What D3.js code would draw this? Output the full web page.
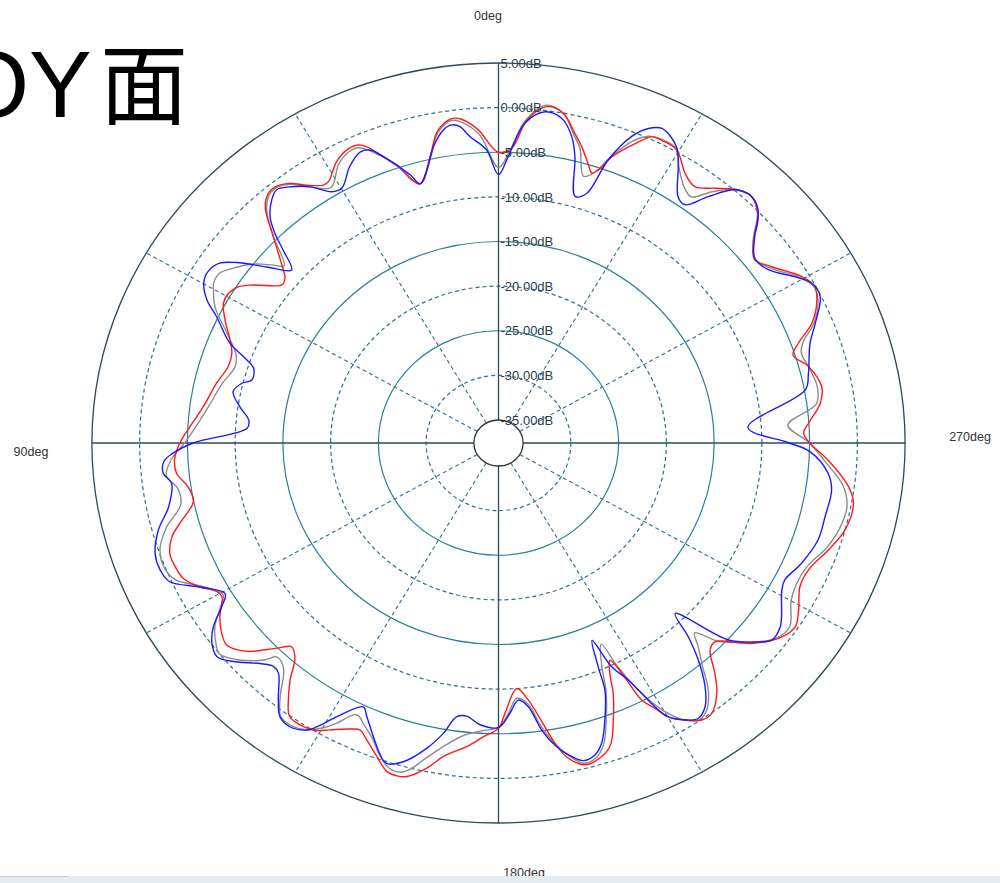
<!DOCTYPE html>
<html>
<head>
<meta charset="utf-8">
<script src="https://cdn.jsdelivr.net/npm/d3@7"></script>
<style>
  body { margin: 0; background: #fff; }
  text { font-family: "Liberation Sans", Arial, sans-serif; }
</style>
</head>
<body>
<div id="chart"></div>
<script>
// rings (dB) and dashed spoke angles
var dbTicks = [5, 0, -5, -10, -15, -20, -25, -30, -35];
var spokeAngles = [30, 60, 120, 150, 210, 240, 300, 330];
var degLabels = ["0deg", "90deg", "180deg", "270deg"];

// [angle in deg (0 = top, counter-clockwise), gain in dB]
var redSeries = [[0,-5.0],[3.5,-2.4],[6.1,-1.1],[7.7,-0.9],[10.3,-2.0],[12.6,-4.7],[15.8,-7.4],[18.9,-4.65],[21,-3.0],[22.6,-1.6],[24,-1.05],[25.8,-1.1],[28.3,-1.8],[31.3,-3.3],[32.4,-3.35],[34.8,-2.4],[36.9,-1.2],[39.2,-0.55],[40.7,-0.65],[42.7,-1.55],[45.6,-4.6],[49.3,-7.85],[50.5,-8.6],[52,-8.8],[55.4,-6.4],[57.3,-5.2],[59.3,-4.7],[61.5,-4.8],[64.3,-5.8],[67.7,-7.2],[70.2,-7.9],[73.2,-8.0],[77.2,-7.3],[82.5,-6.4],[86.8,-5.2],[90,-4.2],[93.2,-3.6],[95.8,-3.7],[98.6,-4.7],[101.6,-4.95],[105.1,-3.0],[107.1,-1.8],[109.8,-1.0],[112.3,-1.0],[114.7,-1.25],[117.3,-2.4],[119.4,-3.7],[120.7,-3.9],[123.7,-2.5],[126.3,-1.6],[128.5,-1.2],[130.2,-1.7],[131.9,-2.6],[134.7,-4.9],[136.5,-6.1],[138.5,-5.4],[140.6,-3.2],[142.6,-1.35],[144.5,0.07],[147.3,0.2],[149.4,-0.15],[151.2,-0.9],[154.1,-1.95],[155.7,-2.3],[157.5,-1.55],[160.1,-0.2],[162.4,1.05],[164.1,1.2],[165.6,1.0],[168.3,-0.35],[170.7,-2.0],[174.4,-3.4],[177.2,-4.6],[180,-5.6],[181.3,-7.3],[184,-10.0],[186.2,-8.6],[190,-3.4],[191.7,-1.5],[194.1,-0.4],[195.8,-0.5],[198.9,-1.6],[201.4,-4.6],[203.2,-7.1],[204.3,-9.25],[205.6,-10.6],[206.6,-8.7],[207.5,-5.1],[208.9,-3.6],[210.1,-2.1],[212.2,-0.9],[214.4,0.05],[216.4,0.05],[219.2,-1.4],[221.3,-3.25],[223.7,-5.5],[225.5,-5.8],[229.7,-2.85],[233.8,-0.8],[236.5,-0.3],[239.2,-1.0],[243,-2.15],[246.3,-2.15],[250.9,-1.0],[255,0],[259.7,0.2],[262.4,-0.6],[266.8,-3.0],[270,-5.0],[272,-5.6],[274,-5.0],[277.5,-3.6],[280.6,-3.15],[284.8,-4.0],[287.7,-5.2],[289.6,-4.25],[292.2,-2.15],[295.2,-0.75],[297.9,-0.1],[300.4,-0.75],[304.6,-2.8],[307.4,-3.8],[310,-2.75],[313,-0.4],[316.2,0.7],[318.5,0.3],[321.5,-1.1],[324.4,-2.25],[327.1,-1.6],[330.4,0.2],[333.3,0.4],[334.9,0.3],[336.9,-1.1],[339.7,-3.4],[341.1,-5.25],[342.1,-5.8],[343.2,-5.0],[345.3,-3.25],[347,-2.0],[349.7,0.05],[352.4,0.44],[355.3,-1.3],[357.6,-4.5]];

var graySeries = [[0,-6.7],[3.5,-2.8],[7.6,-1.1],[10.3,-2.2],[12.6,-4.9],[15.8,-7.4],[18.9,-4.8],[21,-3.1],[23.9,-1.4],[25.8,-1.4],[28.3,-2.2],[31.5,-4.0],[34.8,-2.6],[37,-1.3],[39.2,-0.7],[41,-0.9],[43,-2.0],[45.6,-4.6],[48.5,-7.6],[49.8,-6.7],[52,-5.0],[54.8,-3.6],[57,-2.7],[59.1,-2.8],[60.1,-3.15],[62.8,-4.2],[66.6,-6.6],[70,-8.3],[72.8,-8.7],[77,-7.9],[82.5,-6.9],[86.8,-5.8],[90,-4.7],[93,-3.3],[96,-2.6],[98.6,-3.6],[101.7,-3.6],[105.3,-1.5],[108.7,-0.15],[112,0.1],[114.5,-0.5],[117.3,-2.6],[120.5,-4.1],[122.3,-3.1],[124.6,-1.5],[127,-0.5],[129,0.0],[131.4,-0.9],[134.7,-3.0],[135.9,-4.2],[138.2,-3.8],[141.3,-1.0],[143.3,0.6],[145.5,0.8],[148,0.3],[150,-0.7],[151.5,-1.8],[154,-3.7],[156,-3.0],[158.3,-1.9],[160.5,-0.4],[162.5,0.6],[164.5,0.7],[166,0.0],[167.5,-1.2],[170.4,-3.1],[173.6,-4.6],[177,-5.3],[180,-5.7],[182,-7.3],[183.8,-8.9],[186,-8.2],[188,-5.5],[190,-3.3],[192,-1.7],[194,-0.6],[196,-0.8],[198,-2.0],[200,-4.6],[202,-7.5],[203.5,-10.5],[205.5,-12.6],[206.5,-9.5],[208,-6.0],[210,-2.9],[212.2,-0.9],[214.2,-0.1],[216.2,-0.6],[218.5,-2.3],[220.5,-4.7],[222.5,-6.6],[224,-8.0],[226,-5.6],[229.5,-3.2],[233,-1.2],[236,-0.8],[240,-2.2],[243,-2.6],[247,-2.4],[251,-1.3],[255,-0.6],[259,-0.4],[262.5,-1.2],[266.5,-3.3],[270,-5.0],[273.8,-7.2],[277.5,-4.0],[280.5,-3.6],[284,-3.9],[287.7,-4.3],[289.6,-3.7],[292,-2.0],[295.5,-0.5],[298,-0.2],[300.5,-1.0],[304.5,-3.0],[307.5,-3.7],[310.5,-2.5],[313.5,-0.2],[316.2,0.7],[318.7,0.2],[321.5,-1.6],[323.8,-3.4],[325.7,-3.0],[328.5,-1.4],[330.5,0.3],[333.5,0.5],[335.5,0.2],[337.5,-1.0],[340,-3.6],[341.5,-5.5],[343.4,-6.4],[345.5,-3.5],[347.2,-2.1],[349.5,-0.1],[352.5,0.6],[355.5,-1.3],[357.8,-4.6]];

var blueSeries = [[0,-7.5],[2.2,-4.7],[5,-3.1],[6.5,-1.9],[7.8,-1.6],[9.4,-2.05],[11.6,-3.7],[13.8,-6.1],[15.8,-7.4],[17.1,-6.15],[20.6,-3.3],[22.3,-2.1],[23.9,-1.9],[26.7,-2.9],[29.9,-4.65],[31.8,-4.45],[34.5,-2.75],[37.3,-1.5],[39.3,-0.9],[41.1,-1.45],[43.3,-2.7],[44.9,-4.4],[46.2,-6.3],[48.2,-8.5],[50.9,-6.3],[53.6,-3.5],[55.4,-2.1],[57.7,-1.6],[59.9,-1.9],[62.3,-3.1],[64.4,-4.85],[68.3,-7.3],[70.1,-9.2],[71.9,-10.6],[74.7,-10.8],[76,-9.9],[78.3,-9.2],[81.5,-10.2],[84.4,-11.3],[86.4,-11.2],[90,-5.6],[92,-3.4],[93.3,-2.5],[95.5,-2.3],[97.5,-3.05],[101.7,-2.3],[105.3,-0.65],[109,0.45],[111.9,0.6],[114.3,0.2],[117.3,-2.4],[120.5,-4.35],[122.3,-3.3],[124.6,-1.3],[126.8,-0.1],[129.1,0.4],[131.4,-0.55],[134.7,-2.45],[136.7,-3.2],[138.2,-3.0],[141.3,-0.7],[143.3,0.7],[145.5,1.0],[148,0.35],[149.1,-0.5],[151.1,-2.55],[154.4,-4.8],[155.8,-3.95],[158.3,-2.15],[160.5,-0.5],[161.9,0.2],[164.4,-0.5],[167.6,-2.55],[169.9,-4.5],[171.9,-6.6],[173.8,-6.8],[176.5,-5.95],[180,-5.7],[182.3,-7.3],[184.1,-8.7],[186,-7.9],[188,-5.1],[189.9,-3.2],[191.8,-1.9],[194,-0.9],[196.1,-1.2],[197.8,-2.25],[200,-4.95],[201.9,-7.7],[202.6,-10.4],[203.9,-13.4],[205.3,-9.85],[207.1,-7.75],[209,-3.8],[210.1,-2.1],[212.2,-0.9],[214.1,-0.3],[216.2,-0.95],[218.4,-2.75],[220.7,-5.5],[222.5,-8.2],[224.1,-11.0],[227.5,-4.9],[230.7,-2.4],[232.3,-1.45],[235.1,-1.6],[241,-3.65],[242.9,-3.9],[247,-3.1],[252,-2.4],[256.4,-2.4],[261.4,-2.3],[264.4,-2.9],[268.3,-4.95],[270,-7.1],[273.8,-11.4],[280.5,-4.9],[283.5,-4.2],[288.9,-3.1],[292,-1.8],[296,-0.1],[298.6,-0.2],[301,-1.4],[304.5,-3.3],[307.6,-3.7],[310.7,-2.2],[313.8,0.1],[316.2,0.7],[318.9,0.07],[321.5,-2.3],[323.8,-4.5],[325.7,-4.2],[328.7,-1.35],[330.7,0.5],[334.1,1.6],[336,1.0],[337.9,-0.5],[340.1,-3.85],[341.7,-8.1],[343.8,-8.8],[346,-4.5],[347.4,-2.4],[349.7,-0.6],[352.5,-0.15],[355.6,-1.65],[358.2,-5.5]];

var width = 1000, height = 883,
    cx = 498.5, cy = 443,
    stretch = 1.07;   // picture is a bit wider than tall

var svg = d3.select("#chart")
  .append("svg")
    .attr("width", width)
    .attr("height", height);

var r = d3.scaleLinear()
  .domain([-35, 5])
  .range([23, 380]);

var rad = function(a) { return a * Math.PI / 180; };

var plot = svg.append("g")
    .attr("transform", "translate(" + cx + "," + cy + ") scale(" + stretch + ",1)");

// rings
plot.selectAll("circle.ring")
  .data(dbTicks.filter(function(d) { return d > -35; }))
  .enter()
  .append("circle")
    .attr("class", "ring")
    .attr("r", function(d) { return r(d); })
    .attr("fill", "none")
    .attr("vector-effect", "non-scaling-stroke")
    .attr("stroke", function(d) {
      if (d === 5) return "#2f4b5b";
      return d % 10 === 0 ? "#2f6f8f" : "#2a7f9d";
    })
    .attr("stroke-width", function(d) { return d === 5 ? 1.3 : 1.2; })
    .attr("stroke-dasharray", function(d) { return d % 10 === 0 && d !== 5 ? "4,3" : null; });

// dashed spokes
plot.selectAll("line.spoke")
  .data(spokeAngles)
  .enter()
  .append("line")
    .attr("class", "spoke")
    .attr("x1", function(a) { return -r(-35) * Math.sin(rad(a)); })
    .attr("y1", function(a) { return -r(-35) * Math.cos(rad(a)); })
    .attr("x2", function(a) { return -r(5) * Math.sin(rad(a)); })
    .attr("y2", function(a) { return -r(5) * Math.cos(rad(a)); })
    .attr("stroke", "#2f6f8f")
    .attr("stroke-width", 1.1)
    .attr("vector-effect", "non-scaling-stroke")
    .attr("stroke-dasharray", "4,3");

// main axes
plot.selectAll("line.axis")
  .data([0, 90])
  .enter()
  .append("line")
    .attr("class", "axis")
    .attr("x1", function(a) { return -r(5) * Math.sin(rad(a)); })
    .attr("y1", function(a) { return -r(5) * Math.cos(rad(a)); })
    .attr("x2", function(a) { return r(5) * Math.sin(rad(a)); })
    .attr("y2", function(a) { return r(5) * Math.cos(rad(a)); })
    .attr("stroke", "#2c4b5d")
    .attr("stroke-width", 1.3)
    .attr("vector-effect", "non-scaling-stroke");

// traces
var line = d3.lineRadial()
    .angle(function(d) { return -rad(d[0]); })
    .radius(function(d) { return r(d[1]); })
    .curve(d3.curveCatmullRomClosed.alpha(0.5));

var series = [
  {name: "gray", values: graySeries, color: "#8c8c8c"},
  {name: "red", values: redSeries, color: "#ff1a1a"},
  {name: "blue", values: blueSeries, color: "#1a1aff"}
];

plot.selectAll("path.trace")
  .data(series)
  .enter()
  .append("path")
    .attr("class", "trace")
    .attr("d", function(d) { return line(d.values); })
    .attr("fill", "none")
    .attr("stroke", function(d) { return d.color; })
    .attr("stroke-width", 1.4)
    .attr("vector-effect", "non-scaling-stroke")
    .attr("stroke-linejoin", "round");

// inner circle at -35dB
plot.append("circle")
    .attr("r", r(-35))
    .attr("fill", "#fff")
    .attr("stroke", "#333")
    .attr("stroke-width", 1.3)
    .attr("vector-effect", "non-scaling-stroke");

// dB labels along the 0deg axis
svg.selectAll("text.db")
  .data(dbTicks)
  .enter()
  .append("text")
    .attr("class", "db")
    .attr("x", cx + 2)
    .attr("y", function(d) { return cy - r(d); })
    .attr("dy", "0.36em")
    .attr("font-size", 13)
    .attr("fill", "#2b3d48")
    .text(function(d) { return d.toFixed(2) + "dB"; });

// angle labels
var degPos = [[488, 20, "middle"], [31, 456, "middle"], [524, 877, "middle"], [970, 441, "middle"]];
svg.selectAll("text.deg")
  .data(degLabels)
  .enter()
  .append("text")
    .attr("class", "deg")
    .attr("x", function(d, i) { return degPos[i][0]; })
    .attr("y", function(d, i) { return degPos[i][1]; })
    .attr("text-anchor", function(d, i) { return degPos[i][2]; })
    .attr("font-size", 12.5)
    .attr("fill", "#333")
    .text(function(d) { return d; });

// big title, cut at the left edge
var title = svg.append("text")
    .attr("x", -44)
    .attr("y", 117)
    .attr("font-size", 94)
    .attr("fill", "#000");
title.append("tspan").text("OY");
title.append("tspan")
    .attr("x", 100)
    .attr("font-family", "'Noto Sans CJK SC', sans-serif")
    .attr("font-size", 88)
    .text("面");

// window bar at the bottom
svg.append("rect")
    .attr("x", 0).attr("y", 876)
    .attr("width", width).attr("height", height - 876)
    .attr("fill", "#e6ebef");
svg.append("line")
    .attr("x1", 0).attr("x2", 68)
    .attr("y1", 876.5).attr("y2", 876.5)
    .attr("stroke", "#c9cdd1");
</script>
</body>
</html>
